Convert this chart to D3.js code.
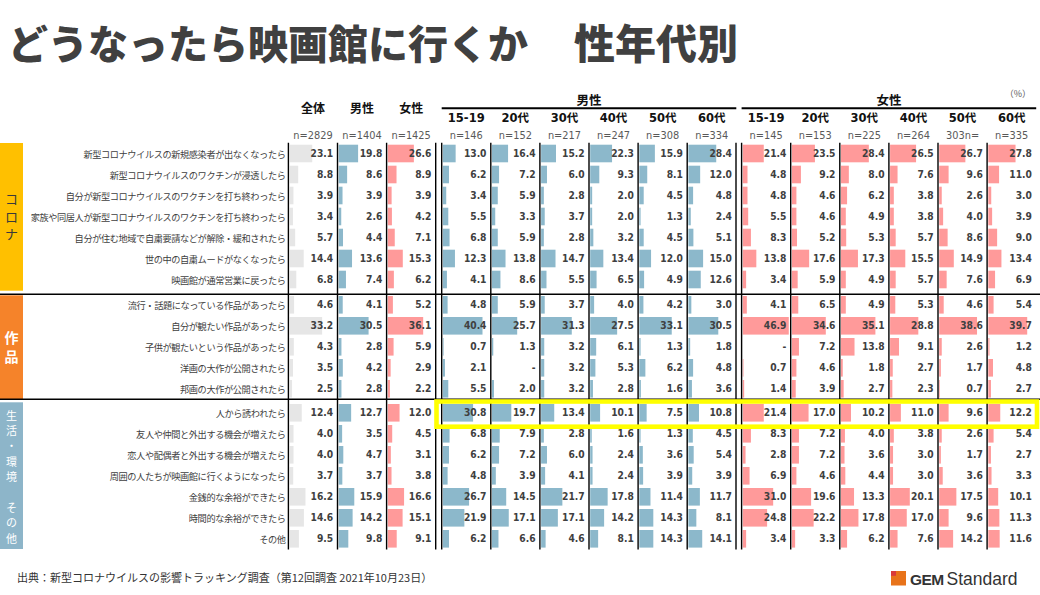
<!DOCTYPE html>
<html>
<head>
<meta charset="utf-8">
<script src="https://cdn.jsdelivr.net/npm/d3@7"></script>
<style>
    body { margin: 0; background: #fff; }
    svg { display: block; }
    .jp { font-family: "Noto Sans CJK JP", "Noto Sans", sans-serif; }
    .num { font-family: "DejaVu Sans Condensed", "DejaVu Sans", sans-serif; }
</style>
</head>
<body>
<div id="chart"></div>
<script>
// ---- data ----
const sections = ["コロナ", "作品", "生活・環境　その他"];
const sectionSizes = [7, 5, 7];

const items = [
    "新型コロナウイルスの新規感染者が出なくなったら",
    "新型コロナウイルスのワクチンが浸透したら",
    "自分が新型コロナウイルスのワクチンを打ち終わったら",
    "家族や同居人が新型コロナウイルスのワクチンを打ち終わったら",
    "自分が住む地域で自粛要請などが解除・緩和されたら",
    "世の中の自粛ムードがなくなったら",
    "映画館が通常営業に戻ったら",
    "流行・話題になっている作品があったら",
    "自分が観たい作品があったら",
    "子供が観たいという作品があったら",
    "洋画の大作が公開されたら",
    "邦画の大作が公開されたら",
    "人から誘われたら",
    "友人や仲間と外出する機会が増えたら",
    "恋人や配偶者と外出する機会が増えたら",
    "周囲の人たちが映画館に行くようになったら",
    "金銭的な余裕ができたら",
    "時間的な余裕ができたら",
    "その他"
];

const totalCols = ["全体", "男性", "女性"];
const totalN = ["n=2829", "n=1404", "n=1425"];
const totalAll = [23.1, 8.8, 3.9, 3.4, 5.7, 14.4, 6.8, 4.6, 33.2, 4.3, 3.5, 2.5, 12.4, 4.0, 4.0, 3.7, 16.2, 14.6, 9.5];
const totalMale = [19.8, 8.6, 3.9, 2.6, 4.4, 13.6, 7.4, 4.1, 30.5, 2.8, 4.2, 2.8, 12.7, 3.5, 4.7, 3.7, 15.9, 14.2, 9.8];
const totalFemale = [26.6, 8.9, 3.9, 4.2, 7.1, 15.3, 6.2, 5.2, 36.1, 5.9, 2.9, 2.2, 12.0, 4.5, 3.1, 3.8, 16.6, 15.1, 9.1];

const ages = ["15-19", "20代", "30代", "40代", "50代", "60代"];
const maleN = ["n=146", "n=152", "n=217", "n=247", "n=308", "n=334"];
const femaleN = ["n=145", "n=153", "n=225", "n=264", "303n=", "n=335"];

const male1519 = [13.0, 6.2, 3.4, 5.5, 6.8, 12.3, 4.1, 4.8, 40.4, 0.7, 2.1, 5.5, 30.8, 6.8, 6.2, 4.8, 26.7, 21.9, 6.2];
const male20 = [16.4, 7.2, 5.9, 3.3, 5.9, 13.8, 8.6, 5.9, 25.7, 1.3, null, 2.0, 19.7, 7.9, 7.2, 3.9, 14.5, 17.1, 6.6];
const male30 = [15.2, 6.0, 2.8, 3.7, 2.8, 14.7, 5.5, 3.7, 31.3, 3.2, 3.2, 3.2, 13.4, 2.8, 6.0, 4.1, 21.7, 17.1, 4.6];
const male40 = [22.3, 9.3, 2.0, 2.0, 3.2, 13.4, 6.5, 4.0, 27.5, 6.1, 5.3, 2.8, 10.1, 1.6, 2.4, 2.4, 17.8, 14.2, 8.1];
const male50 = [15.9, 8.1, 4.5, 1.3, 4.5, 12.0, 4.9, 4.2, 33.1, 1.3, 6.2, 1.6, 7.5, 1.3, 3.6, 3.9, 11.4, 14.3, 14.3];
const male60 = [28.4, 12.0, 4.8, 2.4, 5.1, 15.0, 12.6, 3.0, 30.5, 1.8, 4.8, 3.6, 10.8, 4.5, 5.4, 3.9, 11.7, 8.1, 14.1];

const female1519 = [21.4, 4.8, 4.8, 5.5, 8.3, 13.8, 3.4, 4.1, 46.9, null, 0.7, 1.4, 21.4, 8.3, 2.8, 6.9, 31.0, 24.8, 3.4];
const female20 = [23.5, 9.2, 4.6, 4.6, 5.2, 17.6, 5.9, 6.5, 34.6, 7.2, 4.6, 3.9, 17.0, 7.2, 7.2, 4.6, 19.6, 22.2, 3.3];
const female30 = [28.4, 8.0, 6.2, 4.9, 5.3, 17.3, 4.9, 4.9, 35.1, 13.8, 1.8, 2.7, 10.2, 4.0, 3.6, 4.4, 13.3, 17.8, 6.2];
const female40 = [26.5, 7.6, 3.8, 3.8, 5.7, 15.5, 5.7, 5.3, 28.8, 9.1, 2.7, 2.3, 11.0, 3.8, 3.0, 3.0, 20.1, 17.0, 7.6];
const female50 = [26.7, 9.6, 2.6, 4.0, 8.6, 14.9, 7.6, 4.6, 38.6, 2.6, 1.7, 0.7, 9.6, 2.6, 1.7, 3.6, 17.5, 9.6, 14.2];
const female60 = [27.8, 11.0, 3.0, 3.9, 9.0, 13.4, 6.9, 5.4, 39.7, 1.2, 4.8, 2.7, 12.2, 5.4, 2.7, 3.3, 10.1, 11.3, 11.6];

const highlightRow = 12;   // 人から誘われたら


class MovieTable {
    constructor(parentElement) {
        this.parentElement = parentElement;
        this.initVis();
    }

    initVis() {
        let vis = this;

        vis.width = 1040;
        vis.height = 595;
        vis.colW = 49.1;

        vis.svg = d3.select("#" + vis.parentElement).append("svg")
            .attr("width", vis.width)
            .attr("height", vis.height);

        vis.colors = {gray: "#e6e6e6", male: "#8cb8cb", female: "#ff9a9a",
            text: "#404040", sec: ["#ffc000", "#f5832a", "#8db5c9"]};

        // columns: header, n label, values, bar colour, left edge
        vis.columns = [];
        [totalAll, totalMale, totalFemale].forEach((v, i) => {
            vis.columns.push({head: totalCols[i], n: totalN[i], values: v,
                color: [vis.colors.gray, vis.colors.male, vis.colors.female][i],
                x: 288.4 + i * 49.1});
        });
        [male1519, male20, male30, male40, male50, male60].forEach((v, i) => {
            vis.columns.push({age: ages[i], n: maleN[i], values: v, color: vis.colors.male,
                x: 441.7 + i * vis.colW});
        });
        [female1519, female20, female30, female40, female50, female60].forEach((v, i) => {
            vis.columns.push({age: ages[i], n: femaleN[i], values: v, color: vis.colors.female,
                x: 741.6 + i * vis.colW});
        });

        // bar length scale (percent -> px)
        vis.x = d3.scaleLinear().domain([0, 50]).range([0, 49]);

        // row positions, one band scale per section
        vis.sectionTops = [143, 294.3, 402.3];
        vis.rowH = 21;
        vis.rows = [];
        let start = 0;
        sectionSizes.forEach((n, s) => {
            let band = d3.scaleBand()
                .domain(d3.range(start, start + n))
                .range([vis.sectionTops[s], vis.sectionTops[s] + n * vis.rowH]);
            d3.range(start, start + n).forEach(i => vis.rows.push({i: i, y: band(i), h: band.bandwidth(), sec: s}));
            start += n;
        });

        vis.wrangleData();
    }

    wrangleData() {
        let vis = this;

        vis.cells = [];
        vis.columns.forEach(c => {
            vis.rows.forEach(r => {
                vis.cells.push({col: c, row: r, value: c.values[r.i]});
            });
        });

        vis.updateVis();
    }

    updateVis() {
        let vis = this;
        let svg = vis.svg;

        // title
        svg.append("text").attr("class", "jp")
            .attr("x", 8).attr("y", 59)
            .attr("font-size", 40).attr("font-weight", 900)
            .attr("fill", vis.colors.text)
            .text("どうなったら映画館に行くか");
        svg.append("text").attr("class", "jp")
            .attr("x", 574).attr("y", 59)
            .attr("font-size", 41).attr("font-weight", 900)
            .attr("fill", vis.colors.text)
            .text("性年代別");

        svg.append("text").attr("class", "jp")
            .attr("x", 1031).attr("y", 97).attr("text-anchor", "end")
            .attr("font-size", 9).attr("fill", "#595959")
            .text("（%）");

        // section bands
        let bandExt = [[143, 290.7], [295.3, 399], [402.3, 549]];
        svg.selectAll(".sec").data(sections).enter().append("rect")
            .attr("x", 0).attr("width", 23)
            .attr("y", (d, i) => bandExt[i][0])
            .attr("height", (d, i) => bandExt[i][1] - bandExt[i][0])
            .attr("fill", (d, i) => vis.colors.sec[i]);

        // section labels (vertical)
        let secLabel = [
            {chars: "コロナ", y0: 198.5, step: 17.5, size: 13, fill: "#3a3a3a", bold: false},
            {chars: "作品", y0: 337, step: 18.5, size: 14, fill: "#fff", bold: true},
            {chars: "生活・環境　その他", y0: 414.5, step: 15.4, size: 11, fill: "#fff", bold: false}
        ];
        secLabel.forEach(s => {
            Array.from(s.chars).forEach((ch, k) => {
                svg.append("text").attr("class", "jp")
                    .attr("x", 11.5).attr("y", s.y0 + k * s.step)
                    .attr("text-anchor", "middle").attr("dominant-baseline", "central")
                    .attr("font-size", s.size).attr("font-weight", s.bold ? 700 : 400)
                    .attr("fill", s.fill)
                    .text(ch);
            });
        });

        // row labels
        svg.selectAll(".rowlab").data(vis.rows).enter().append("text")
            .attr("class", "jp")
            .attr("x", 285.5)
            .attr("y", d => d.y + d.h / 2)
            .attr("text-anchor", "end").attr("dominant-baseline", "central")
            .attr("font-size", 9.2).attr("letter-spacing", -0.4)
            .attr("fill", vis.colors.text)
            .text(d => items[d.i]);

        // bars
        svg.selectAll(".bar").data(vis.cells.filter(d => d.value !== null)).enter().append("rect")
            .attr("x", d => d.col.x + 1.2)
            .attr("y", d => d.row.y + (d.row.h - 17.6) / 2)
            .attr("width", d => vis.x(d.value))
            .attr("height", 17.6)
            .attr("fill", d => d.col.color);

        // values
        svg.selectAll(".val").data(vis.cells).enter().append("text")
            .attr("class", "num")
            .attr("x", d => d.col.x + vis.colW - 4.3)
            .attr("y", d => d.row.y + d.row.h / 2)
            .attr("text-anchor", "end").attr("dominant-baseline", "central")
            .attr("font-size", 10.2).attr("font-weight", 700)
            .attr("fill", vis.colors.text)
            .text(d => d.value === null ? "-" : d3.format(".1f")(d.value));

        // column headers
        svg.selectAll(".head").data(vis.columns.filter(c => c.head)).enter().append("text")
            .attr("class", "jp")
            .attr("x", d => d.x + vis.colW / 2).attr("y", 112.5)
            .attr("text-anchor", "middle")
            .attr("font-size", 12).attr("font-weight", 700).attr("fill", "#111")
            .text(d => d.head);

        svg.selectAll(".age").data(vis.columns.filter(c => c.age)).enter().append("text")
            .attr("x", d => d.x + vis.colW / 2).attr("y", 121.8)
            .attr("text-anchor", "middle")
            .attr("font-family", "'DejaVu Sans', 'Noto Sans CJK JP', sans-serif")
            .attr("font-size", 11.5).attr("font-weight", 700).attr("fill", "#111")
            .text(d => d.age);

        svg.selectAll(".n").data(vis.columns).enter().append("text")
            .attr("x", d => d.x + vis.colW / 2).attr("y", 138.8)
            .attr("text-anchor", "middle")
            .attr("font-family", "'DejaVu Sans', sans-serif")
            .attr("font-size", 9.8).attr("fill", "#595959")
            .text(d => d.n);

        // group headers with underline
        let groups = [{label: "男性", x0: 441.7}, {label: "女性", x0: 741.6}];
        groups.forEach(g => {
            let x1 = g.x0 + 6 * vis.colW;
            svg.append("text").attr("class", "jp")
                .attr("x", (g.x0 + x1) / 2).attr("y", 104.5)
                .attr("text-anchor", "middle")
                .attr("font-size", 12.5).attr("font-weight", 700).attr("fill", "#111")
                .text(g.label);
            svg.append("line")
                .attr("x1", g.x0).attr("x2", x1)
                .attr("y1", 108.3).attr("y2", 108.3)
                .attr("stroke", "#000").attr("stroke-width", 2);
        });

        // vertical grid lines (+ the doubled ones between blocks)
        let vlines = vis.columns.map(c => c.x);
        vlines.push(435.7, 736);
        svg.selectAll(".vline").data(vlines).enter().append("line")
            .attr("x1", d => d).attr("x2", d => d)
            .attr("y1", 142.7).attr("y2", 549.5)
            .attr("stroke", "#000").attr("stroke-width", 1.4);

        // section dividers
        svg.selectAll(".hline").data([294.3, 399.3]).enter().append("line")
            .attr("x1", 0).attr("x2", 1040)
            .attr("y1", d => d).attr("y2", d => d)
            .attr("stroke", "#000").attr("stroke-width", 1.4);

        // highlight box
        let hr = vis.rows[highlightRow];
        svg.append("rect")
            .attr("x", 436.5).attr("y", hr.y - 0.8)
            .attr("width", 600.5).attr("height", hr.h + 4.2)
            .attr("fill", "none")
            .attr("stroke", "#ffff00").attr("stroke-width", 4.6);

        // footer
        svg.append("text").attr("class", "jp")
            .attr("x", 17).attr("y", 582)
            .attr("font-size", 11).attr("fill", "#333")
            .text("出典：新型コロナウイルスの影響トラッキング調査（第12回調査 2021年10月23日）");

        // logo
        svg.append("rect").attr("x", 891).attr("y", 571).attr("width", 15).attr("height", 14.5).attr("fill", "#e8731a");
        svg.append("rect").attr("x", 891).attr("y", 571).attr("width", 5).attr("height", 4.8).attr("fill", "#d93a3a");
        let logo = svg.append("text")
            .attr("x", 910).attr("y", 584.5)
            .attr("font-family", "'Liberation Sans', sans-serif")
            .attr("fill", "#333");
        logo.append("tspan").attr("font-size", 15.5).attr("font-weight", 700).attr("letter-spacing", -0.6).text("GEM");
        logo.append("tspan").attr("dx", 3).attr("font-size", 17.5).text("Standard");
    }
}

new MovieTable("chart");
</script>
</body>
</html>
